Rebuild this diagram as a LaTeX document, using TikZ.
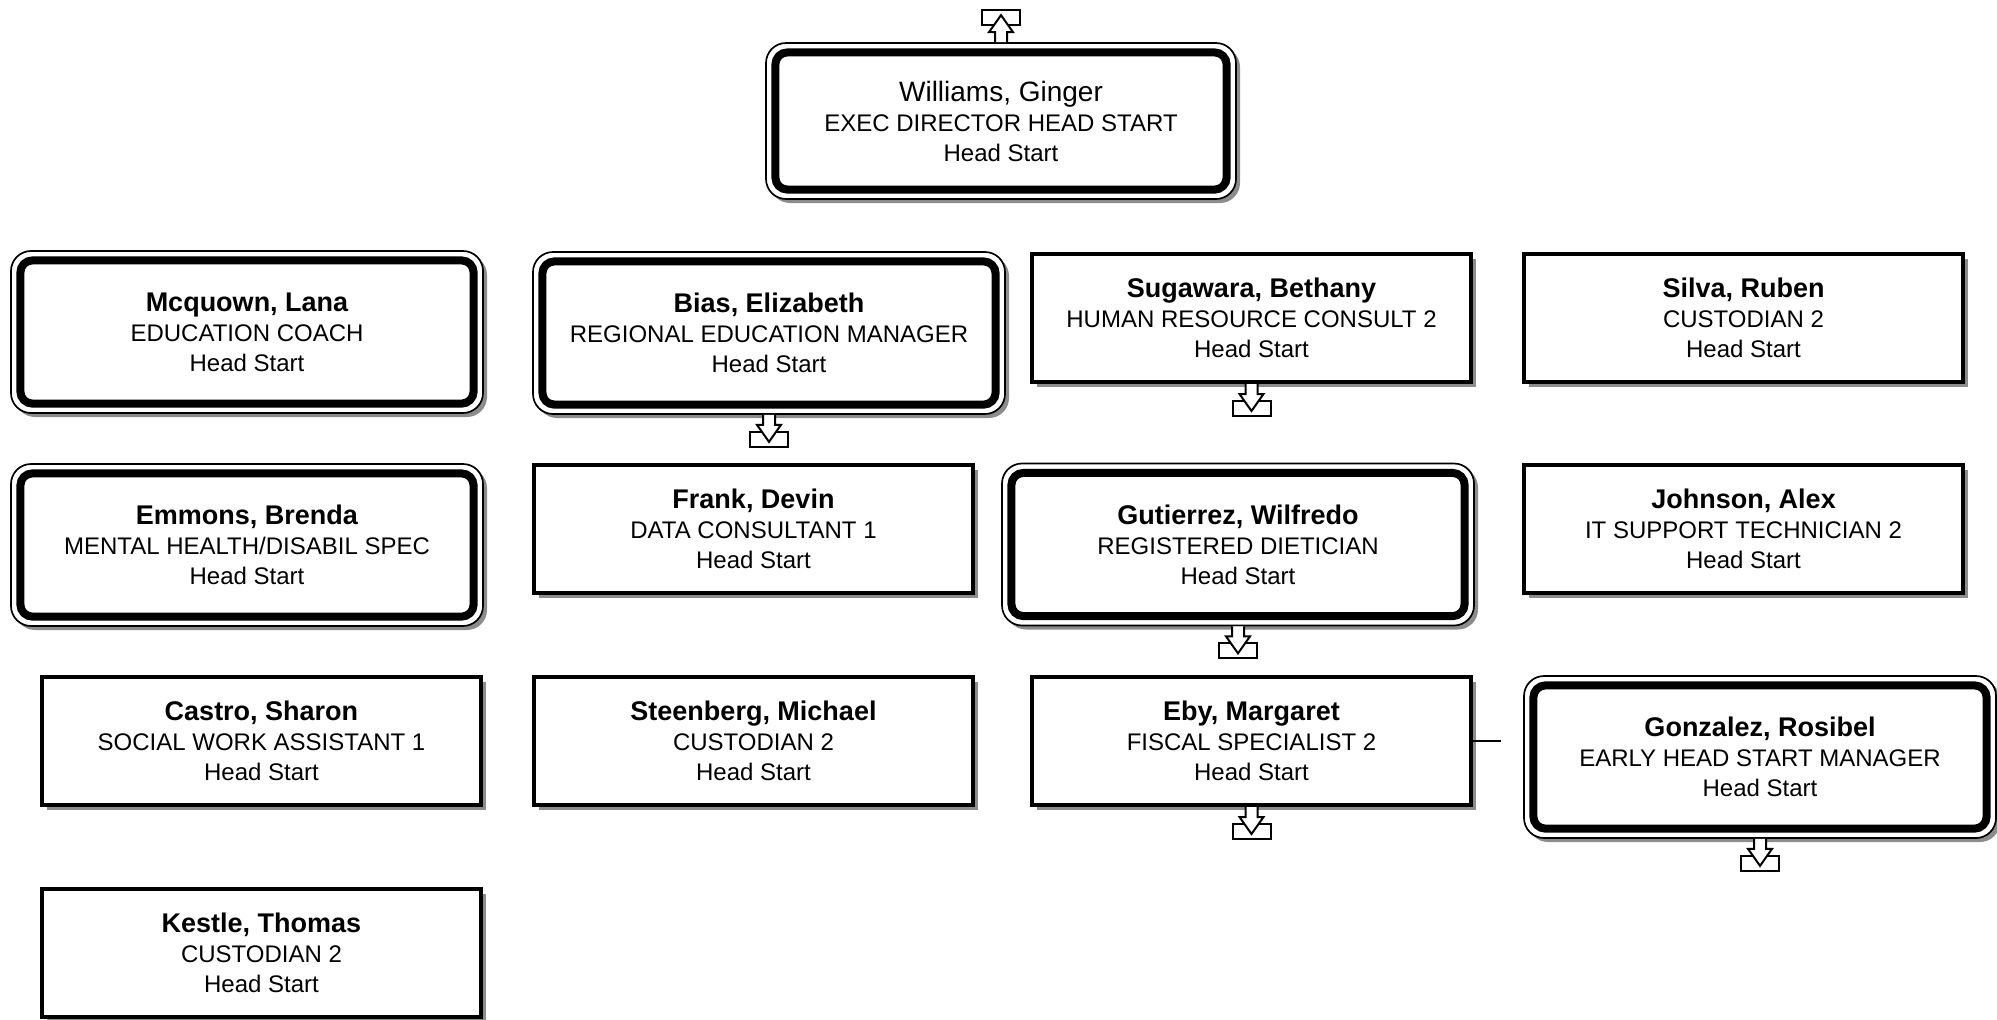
\documentclass[tikz,border=0pt]{standalone}
\usepackage{fontspec}
\setmainfont{Liberation Sans}
\usetikzlibrary{shadows}

% name line of a box
\newcommand{\who}[1]{{\fontsize{13.5}{15}\selectfont\bfseries #1}}
% open arrow into a small tray, below (1) or above (-1) a box
\newcommand{\traymark}[2]{%
  \begin{scope}[shift={(#1)},yscale=#2]
    \draw[line width=1pt,fill=white] (-19,17) rectangle (19,32);
    \draw[line width=1pt,fill=white] (-6,0) -- (-6,10) -- (-12,10) -- (0,27) -- (12,10) -- (6,10) -- (6,0);
  \end{scope}}

\begin{document}
\begin{tikzpicture}[x=0.5pt,y=-0.5pt,
  staff/.style={draw,line width=2pt,fill=white,minimum width=219.5pt,minimum height=64pt,
    inner sep=0pt,align=center,font=\fontsize{12}{15}\selectfont,
    drop shadow={shadow xshift=2.5pt,shadow yshift=-2.5pt,fill=black!45,opacity=1}},
  lead/.style={draw,line width=0.85pt,fill=white,rounded corners=10pt,
    minimum width=236pt,minimum height=81pt,inner sep=0pt,align=center,
    font=\fontsize{12}{15}\selectfont,
    drop shadow={shadow xshift=2pt,shadow yshift=-2pt,fill=black!45,opacity=1},
    path picture={\draw[line width=4pt,rounded corners=6pt]
      ([shift={(4.7pt,4.7pt)}]path picture bounding box.south west) rectangle
      ([shift={(-4.7pt,-4.7pt)}]path picture bounding box.north east);}}]
\useasboundingbox (0,0) rectangle (1997,1019);

\node (williams) at (1001,121) [lead,minimum width=235pt,minimum height=78pt] {{\fontsize{14}{15}\selectfont Williams, Ginger}\\EXEC DIRECTOR HEAD START\\Head Start};

\node (mcquown) at (247,332) [lead] {\who{Mcquown, Lana}\\EDUCATION COACH\\Head Start};
\node (bias) at (769,333) [lead] {\who{Bias, Elizabeth}\\REGIONAL EDUCATION MANAGER\\Head Start};
\node (sugawara) at (1251.5,318) [staff] {\who{Sugawara, Bethany}\\HUMAN RESOURCE CONSULT 2\\Head Start};
\node (silva) at (1743.5,318) [staff] {\who{Silva, Ruben}\\CUSTODIAN 2\\Head Start};

\node (emmons) at (247,545) [lead] {\who{Emmons, Brenda}\\MENTAL HEALTH/DISABIL SPEC\\Head Start};
\node (frank) at (753.5,529) [staff] {\who{Frank, Devin}\\DATA CONSULTANT 1\\Head Start};
\node (gutierrez) at (1238,544.5) [lead] {\who{Gutierrez, Wilfredo}\\REGISTERED DIETICIAN\\Head Start};
\node (johnson) at (1743.5,529) [staff] {\who{Johnson, Alex}\\IT SUPPORT TECHNICIAN 2\\Head Start};

\node (castro) at (261.5,741) [staff] {\who{Castro, Sharon}\\SOCIAL WORK ASSISTANT 1\\Head Start};
\node (steenberg) at (753.5,741) [staff] {\who{Steenberg, Michael}\\CUSTODIAN 2\\Head Start};
\node (eby) at (1251.5,741) [staff] {\who{Eby, Margaret}\\FISCAL SPECIALIST 2\\Head Start};
\node (gonzalez) at (1760,757) [lead] {\who{Gonzalez, Rosibel}\\EARLY HEAD START MANAGER\\Head Start};

\node (kestle) at (261.5,953) [staff] {\who{Kestle, Thomas}\\CUSTODIAN 2\\Head Start};

% marks for hidden levels
\traymark{williams.north}{-1}
\traymark{bias.south}{1}
\traymark{sugawara.south}{1}
\traymark{gutierrez.south}{1}
\traymark{eby.south}{1}
\traymark{gonzalez.south}{1}

\coordinate (ebystub) at (1501,741);
\draw[line width=0.75pt] (eby.east) -- (ebystub);
\end{tikzpicture}
\end{document}
